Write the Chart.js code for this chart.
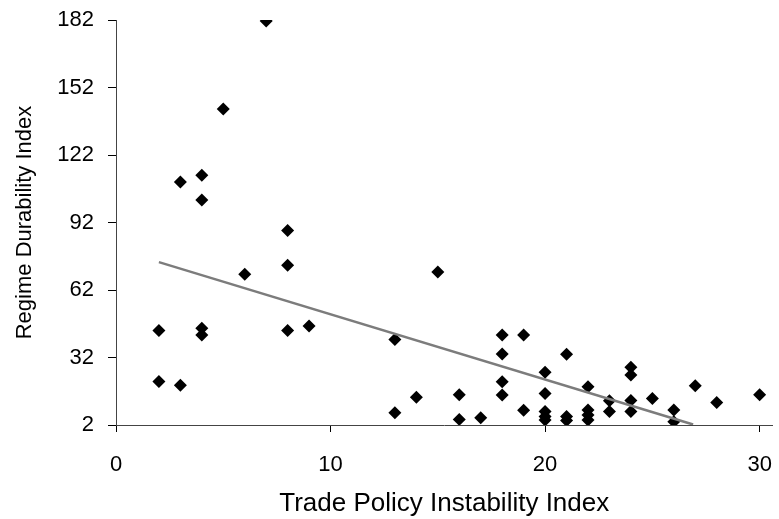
<!DOCTYPE html>
<html>
<head>
<meta charset="utf-8">
<title>Regime Durability vs Trade Policy Instability</title>
<script src="https://cdn.jsdelivr.net/npm/chart.js@4.4.0/dist/chart.umd.min.js"></script>
<style>
    html, body { margin: 0; padding: 0; background: #fff; }
    #wrap { width: 779px; height: 519px; }
</style>
</head>
<body>
<div id="wrap"><canvas id="scatter" width="779" height="519"></canvas></div>
<script>
// Country observations: trade policy instability vs regime durability
const instability = [
    7, 5, 3, 4, 4, 8, 8, 6, 15,
    2, 4, 4, 8, 9, 2, 3,
    13, 13, 14, 16, 16, 17,
    18, 18, 18, 18, 19, 19,
    20, 20, 20, 20, 20,
    21, 21, 21,
    22, 22, 22, 22,
    23, 23,
    24, 24, 24, 24,
    25, 26, 26, 27, 28, 30
];
const durability = [
    181.6, 142.4, 110, 113, 102, 88.5, 73, 69, 70,
    44, 45, 42, 44, 46, 21.3, 19.7,
    40, 7.5, 14.3, 15.4, 4.5, 5.2,
    42, 33.6, 21.2, 15.3, 42, 8.6,
    25.4, 16, 8, 5.8, 4.2,
    33.4, 5.8, 4,
    19, 8.7, 6.4, 4.2,
    12.8, 8,
    27.7, 24.2, 12.9, 8,
    13.8, 8.7, 3.5, 19.5, 12, 15.4
];

// Fitted linear trend, endpoints
const trendX = [2, 26.9];
const trendY = [74.4, 2.2];

const xTicks = [0, 10, 20, 30];
const yTicks = [2, 32, 62, 92, 122, 152, 182];

const points = instability.map((x, i) => ({ x: x, y: durability[i] }));
const trend = trendX.map((x, i) => ({ x: x, y: trendY[i] }));

const family = '"Liberation Sans", Arial, sans-serif';
const tickFont = { family: family, size: 22 };

const ctx = document.getElementById('scatter').getContext('2d');
new Chart(ctx, {
    type: 'scatter',
    data: {
        datasets: [{
            label: 'Trend',
            data: trend,
            showLine: true,
            borderColor: '#7c7c7c',
            borderWidth: 2.5,
            pointRadius: 0,
            fill: false
        }, {
            label: 'Countries',
            data: points,
            pointStyle: 'rectRot',
            pointRadius: 6.5,
            pointBackgroundColor: '#000',
            pointBorderColor: '#000',
            pointBorderWidth: 0
        }]
    },
    options: {
        responsive: false,
        animation: false,
        layout: { padding: { top: 20, right: 1, left: 0, bottom: 0 } },
        plugins: {
            legend: { display: false },
            tooltip: { enabled: false }
        },
        scales: {
            x: {
                type: 'linear',
                min: 0,
                max: 30.6,
                afterBuildTicks: (scale) => {
                    scale.ticks = xTicks.map(v => ({ value: v }));
                },
                afterFit: (scale) => {
                    scale.height = 94;
                    // let the plot run to the right edge; "30" still fits
                    scale.paddingLeft = 0;
                    scale.paddingRight = 0;
                },
                grid: {
                    drawOnChartArea: false,
                    drawTicks: true,
                    tickLength: 7,
                    color: '#000'
                },
                border: { color: '#444', width: 1 },
                ticks: {
                    color: '#000',
                    font: tickFont,
                    padding: 20,
                    maxRotation: 0
                },
                title: {
                    display: true,
                    text: 'Trade Policy Instability Index',
                    color: '#000',
                    font: { family: family, size: 26 },
                    padding: { top: 0, bottom: 0 }
                }
            },
            y: {
                type: 'linear',
                min: 2,
                max: 182,
                afterBuildTicks: (scale) => {
                    scale.ticks = yTicks.map(v => ({ value: v }));
                },
                afterFit: (scale) => {
                    scale.width = 116;
                    scale.paddingTop = 0;
                    scale.paddingBottom = 0;
                },
                grid: {
                    drawOnChartArea: false,
                    drawTicks: true,
                    tickLength: 8,
                    color: '#000'
                },
                border: { color: '#444', width: 1 },
                ticks: {
                    color: '#000',
                    font: tickFont,
                    padding: 14
                },
                title: {
                    display: true,
                    text: 'Regime Durability Index',
                    color: '#000',
                    font: { family: family, size: 22 },
                    padding: { top: 12, bottom: 0 }
                }
            }
        }
    }
});
</script>
</body>
</html>
